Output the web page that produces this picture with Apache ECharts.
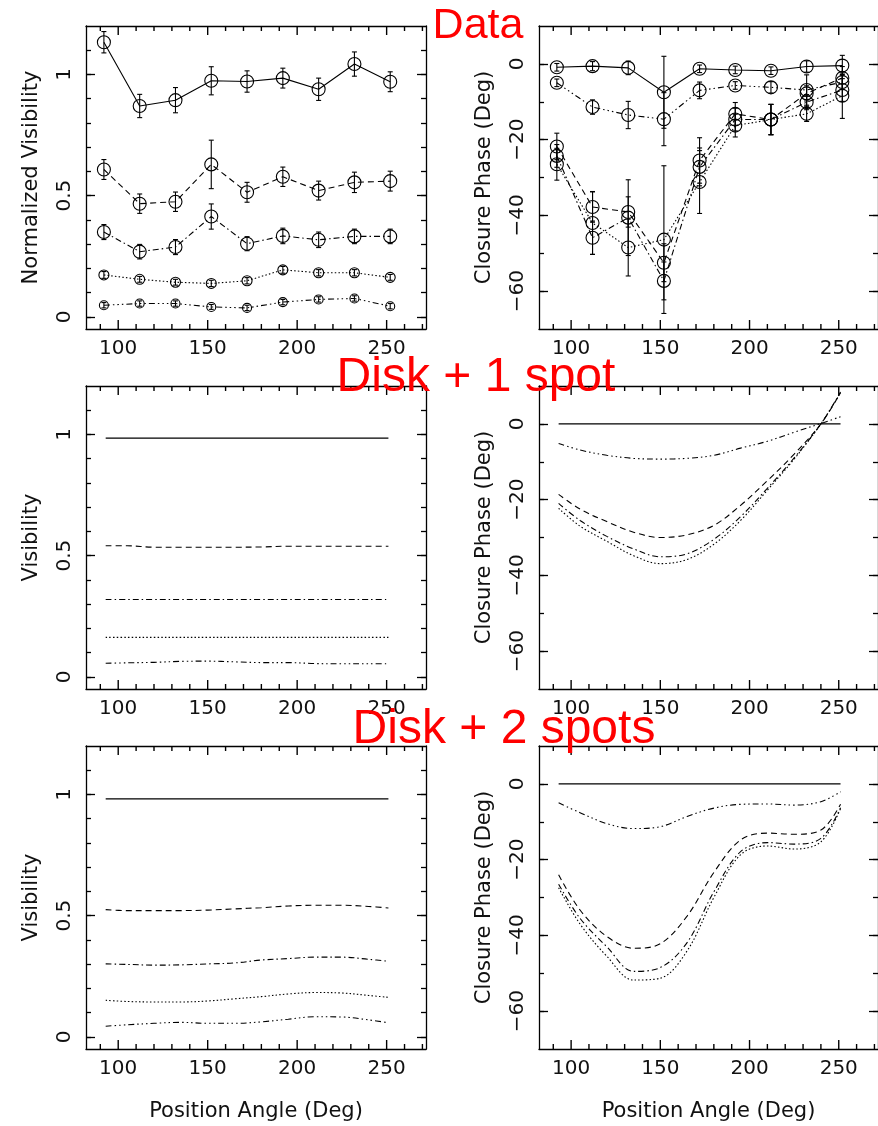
<!DOCTYPE html>
<html><head><meta charset="utf-8">
<script src="https://cdn.jsdelivr.net/npm/echarts@6/dist/echarts.min.js"></script>
<style>html,body{margin:0;padding:0;background:#fff}#c{width:878px;height:1126px}</style>
</head><body><div id="c"></div>
<script>
// ---------- DATA ----------
const posAngle = [92,112,132,152,172,192,212,232,252];
// Observed normalized visibilities (5 baselines) and errors
const visObs1 = [1.133,0.870,0.894,0.974,0.971,0.985,0.939,1.043,0.970];
const visObs1Err = [0.044,0.048,0.052,0.058,0.044,0.041,0.046,0.050,0.041];
const visObs2 = [0.608,0.467,0.475,0.629,0.514,0.578,0.521,0.555,0.560];
const visObs2Err = [0.041,0.040,0.040,0.100,0.041,0.040,0.039,0.042,0.041];
const visObs3 = [0.350,0.269,0.288,0.414,0.302,0.334,0.318,0.332,0.332];
const visObs3Err = [0.031,0.030,0.031,0.052,0.029,0.032,0.032,0.030,0.030];
const visObs4 = [0.173,0.155,0.143,0.138,0.149,0.194,0.182,0.182,0.163];
const visObs4Err = [0.014,0.012,0.012,0.013,0.013,0.014,0.013,0.013,0.012];
const visObs5 = [0.048,0.055,0.055,0.041,0.037,0.061,0.072,0.076,0.044];
const visObs5Err = [0.011,0.011,0.011,0.010,0.011,0.011,0.011,0.011,0.011];
// Observed closure phases (deg) and errors
const cpObsA = [-0.9,-0.6,-1.05,-7.5,-1.3,-1.6,-1.8,-0.7,-0.45];
const cpObsAErr = [1.0,1.2,1.8,9.5,1.0,1.0,1.0,1.5,2.7];
const cpObsB = [-5.0,-11.4,-13.5,-14.6,-7.0,-5.7,-6.2,-6.9,-4.8];
const cpObsBErr = [1.0,1.9,3.6,7.0,2.2,1.0,1.5,4.0,2.0];
const cpObsC = [-21.8,-37.8,-39.1,-52.5,-25.5,-13.2,-14.7,-7.8,-3.7];
const cpObsCErr = [3.5,4.0,4.0,5.0,6.0,3.0,4.0,2.0,3.0];
const cpObsD = [-24.3,-45.9,-40.6,-57.3,-27.2,-14.7,-14.7,-10.1,-6.9];
const cpObsDErr = [3.0,4.4,10.0,5.0,5.0,3.0,4.0,2.0,3.0];
const cpObsE = [-26.5,-42.0,-48.5,-46.4,-31.2,-16.3,-14.7,-13.2,-8.4];
const cpObsEErr = [4.2,8.3,7.5,19.5,8.3,3.0,4.0,2.0,6.0];

// Model position angles
const modelPA = [93,105,120,135,150,165,180,195,210,225,240,251];
// Disk + 1 spot model
const spot1Vis1 = [0.985,0.985,0.985,0.985,0.985,0.985,0.985,0.985,0.985,0.985,0.985,0.985];
const spot1Vis2 = [0.541,0.541,0.535,0.535,0.535,0.535,0.536,0.539,0.539,0.539,0.539,0.539];
const spot1Vis3 = [0.319,0.319,0.319,0.319,0.319,0.319,0.319,0.319,0.319,0.319,0.319,0.319];
const spot1Vis4 = [0.163,0.163,0.163,0.163,0.163,0.163,0.163,0.163,0.163,0.163,0.163,0.163];
const spot1Vis5 = [0.056,0.058,0.060,0.064,0.065,0.062,0.059,0.059,0.055,0.054,0.054,0.054];
const spot1CpA = [0,0,0,0,0,0,0,0,0,0,0,0];
const spot1CpB = [-5.2,-6.9,-8.3,-9.1,-9.3,-9.1,-8.3,-6.4,-4.6,-2.2,0.1,1.9];
const spot1CpC = [-18.6,-22.5,-25.8,-28.6,-30.0,-29.3,-26.8,-21.5,-15.0,-8.0,0.0,8.2];
const spot1CpD = [-21.0,-25.5,-29.7,-33.0,-35.1,-34.3,-30.5,-24.5,-17.0,-9.0,0.0,8.4];
const spot1CpE = [-22.3,-27.0,-31.0,-34.8,-36.9,-35.8,-31.8,-25.5,-17.5,-9.3,0.0,8.2];
// Disk + 2 spots model
const spot2Vis1 = [0.982,0.982,0.982,0.982,0.982,0.982,0.982,0.982,0.982,0.982,0.982,0.982];
const spot2Vis2 = [0.525,0.521,0.521,0.521,0.523,0.528,0.533,0.540,0.543,0.543,0.538,0.532];
const spot2Vis3 = [0.301,0.299,0.296,0.297,0.301,0.305,0.317,0.323,0.329,0.329,0.320,0.312];
const spot2Vis4 = [0.151,0.146,0.144,0.144,0.148,0.157,0.166,0.177,0.183,0.181,0.171,0.163];
const spot2Vis5 = [0.044,0.050,0.056,0.060,0.056,0.056,0.062,0.073,0.083,0.082,0.070,0.058];
const spot2CpA = [0,0,0,0,0,0,0,0,0,0,0,0];
const spot2CpB = [-5.0,-7.6,-10.5,-11.8,-11.3,-8.6,-6.4,-5.4,-5.3,-5.6,-4.7,-2.1];
const spot2CpC = [-24.0,-33.3,-40.3,-43.4,-42.2,-34.9,-23.4,-14.8,-13.0,-13.3,-12.2,-5.4];
const spot2CpD = [-26.5,-35.5,-43.0,-49.5,-48.5,-41.9,-28.5,-17.9,-15.5,-15.9,-14.4,-6.3];
const spot2CpE = [-27.4,-37.0,-45.5,-51.8,-51.3,-44.1,-30.0,-18.7,-16.4,-17.2,-15.3,-6.5];

// Tick values
const xMajorTicks = [100,150,200,250];
const xMinorTicks = [90,110,120,130,140,160,170,180,190,210,220,230,240,260,270];
const visMajorTicks = [0,0.5,1];
const visMinorTicks = [0,0.1,0.2,0.3,0.4,0.5,0.6,0.7,0.8,0.9,1.0,1.1];
const cpMajorTicks = [-60,-40,-20,0];
const cpMinorTicks = [-60,-50,-40,-30,-20,-10,0];
const panelTitles = ['Data','Disk + 1 spot','Disk + 2 spots'];

// ---------- STYLE / LAYOUT ----------
const FONT = 'DejaVu Sans';
const TXT = '#111';
const AXL = {color:'#000', width:1.3};
const X_RANGE = [82,272];
const VIS_RANGE = [-0.05,1.2];
const CP_RANGE = [-70,10];
const colLeft = [86,539];
const rowTop = [26,386,746];
const PW = 340, PH = 303;
const DASH = {solid:'solid', dashed:[6,4], dashdot:[6,3,1.5,3], dotted:[1.5,2.2], dash3dot:[6,3,1.5,3,1.5,3,1.5,3]};

const grids=[], xAxes=[], yAxes=[], series=[], panelRanges=[];

function addPanel(row, col){
  const gi = grids.length;
  grids.push({left:colLeft[col], top:rowTop[row], width:PW, height:PH});
  const isVis = col===0;
  const yr = isVis ? VIS_RANGE : CP_RANGE;
  panelRanges.push(yr);
  const yMaj = isVis ? visMajorTicks : cpMajorTicks;
  const yMin = isVis ? visMinorTicks : cpMinorTicks;
  const yName = isVis ? (row===0 ? 'Normalized Visibility' : 'Visibility') : 'Closure Phase (Deg)';
  const xc = {gridIndex:gi, type:'value', min:X_RANGE[0], max:X_RANGE[1], splitLine:{show:false}};
  const nameStyle = {fontFamily:FONT, fontSize:21, color:TXT};
  const lineOn = {show:true, onZero:false, lineStyle:AXL};
  const lineOff = {show:false, onZero:false};
  xAxes.push(Object.assign({}, xc, {position:'bottom', axisLine:lineOn, axisTick:{show:false},
    axisLabel:{show:true,customValues:xMajorTicks,margin:10,fontFamily:FONT,fontSize:20,color:TXT},
    name: row===2 ? 'Position Angle (Deg)' : '', nameLocation:'middle', nameGap:52, nameTextStyle:nameStyle}));
  xAxes.push(Object.assign({}, xc, {position:'top', axisLine:lineOn, axisTick:{show:false}, axisLabel:{show:false}}));
  const yc = {gridIndex:gi, type:'value', min:yr[0], max:yr[1], splitLine:{show:false}};
  yAxes.push(Object.assign({}, yc, {position:'left', axisLine:lineOn,
    axisTick:{show:true,inside:true,length:9,customValues:yMaj,lineStyle:AXL},
    axisLabel:{show:true,customValues:yMaj,rotate:90,margin:11,fontFamily:FONT,fontSize:20,color:TXT,
      formatter:v=>String(v).replace('-','\u2212')},
    name:yName, nameLocation:'middle', nameGap:44, nameRotate:90, nameTextStyle:nameStyle}));
  yAxes.push(Object.assign({}, yc, {position:'left', axisLine:lineOff,
    axisTick:{show:true,inside:true,length:5,customValues:yMin,lineStyle:AXL}, axisLabel:{show:false}}));
  yAxes.push(Object.assign({}, yc, {position:'right', axisLine:lineOn,
    axisTick:{show:true,inside:true,length:9,customValues:yMaj,lineStyle:AXL}, axisLabel:{show:false}}));
  yAxes.push(Object.assign({}, yc, {position:'right', axisLine:lineOff,
    axisTick:{show:true,inside:true,length:5,customValues:yMin,lineStyle:AXL}, axisLabel:{show:false}}));
  return gi;
}

function pairs(xs, ys){ return xs.map((x,i)=>[x, ys[i]]); }

function addLine(gi, xs, ys, dash, sym, symSize, smooth){
  series.push({type:'line', xAxisIndex:gi*2, yAxisIndex:gi*4, data:pairs(xs,ys),
    silent:true, smooth: smooth ? 0.35 : false,
    showSymbol: !!sym, symbol: sym || 'none', symbolSize: symSize || 0,
    itemStyle:{color:'rgba(255,255,255,0)', borderColor:'#000', borderWidth:1.1},
    lineStyle:{color:'#000', width:1.1, type:DASH[dash]}, z:3});
}

function errItem(params, api){
  const x = api.value(0), lo = api.value(1), hi = api.value(2);
  const p1 = api.coord([x, lo]), p2 = api.coord([x, hi]);
  const w = 2.5, st = {stroke:'#000', lineWidth:1.1};
  return {type:'group', children:[
    {type:'line', shape:{x1:p1[0],y1:p1[1],x2:p2[0],y2:p2[1]}, style:st},
    {type:'line', shape:{x1:p1[0]-w,y1:p1[1],x2:p1[0]+w,y2:p1[1]}, style:st},
    {type:'line', shape:{x1:p2[0]-w,y1:p2[1],x2:p2[0]+w,y2:p2[1]}, style:st}
  ]};
}
function addErr(gi, xs, ys, es){
  series.push({type:'custom', xAxisIndex:gi*2, yAxisIndex:gi*4, silent:true,
    renderItem:errItem, encode:{x:0, y:[1,2]},
    data: xs.map((x,i)=>[x, ys[i]-es[i], ys[i]+es[i]]), z:4});
}

// Row 0: Data
let g = addPanel(0,0);
addLine(g, posAngle, visObs1, 'solid', 'circle', 13); addErr(g, posAngle, visObs1, visObs1Err);
addLine(g, posAngle, visObs2, 'dashed', 'circle', 13); addErr(g, posAngle, visObs2, visObs2Err);
addLine(g, posAngle, visObs3, 'dashdot', 'circle', 13); addErr(g, posAngle, visObs3, visObs3Err);
addLine(g, posAngle, visObs4, 'dotted', 'circle', 10); addErr(g, posAngle, visObs4, visObs4Err);
addLine(g, posAngle, visObs5, 'dash3dot', 'circle', 9); addErr(g, posAngle, visObs5, visObs5Err);
g = addPanel(0,1);
addLine(g, posAngle, cpObsA, 'solid', 'circle', 13); addErr(g, posAngle, cpObsA, cpObsAErr);
addLine(g, posAngle, cpObsB, 'dash3dot', 'circle', 13); addErr(g, posAngle, cpObsB, cpObsBErr);
addLine(g, posAngle, cpObsC, 'dashed', 'circle', 13); addErr(g, posAngle, cpObsC, cpObsCErr);
addLine(g, posAngle, cpObsD, 'dashdot', 'circle', 13); addErr(g, posAngle, cpObsD, cpObsDErr);
addLine(g, posAngle, cpObsE, 'dotted', 'circle', 13); addErr(g, posAngle, cpObsE, cpObsEErr);
// Row 1: Disk + 1 spot
g = addPanel(1,0);
addLine(g, modelPA, spot1Vis1, 'solid', null, 0, true);
addLine(g, modelPA, spot1Vis2, 'dashed', null, 0, true);
addLine(g, modelPA, spot1Vis3, 'dashdot', null, 0, true);
addLine(g, modelPA, spot1Vis4, 'dotted', null, 0, true);
addLine(g, modelPA, spot1Vis5, 'dash3dot', null, 0, true);
g = addPanel(1,1);
addLine(g, modelPA, spot1CpA, 'solid', null, 0, true);
addLine(g, modelPA, spot1CpB, 'dash3dot', null, 0, true);
addLine(g, modelPA, spot1CpC, 'dashed', null, 0, true);
addLine(g, modelPA, spot1CpD, 'dashdot', null, 0, true);
addLine(g, modelPA, spot1CpE, 'dotted', null, 0, true);
// Row 2: Disk + 2 spots
g = addPanel(2,0);
addLine(g, modelPA, spot2Vis1, 'solid', null, 0, true);
addLine(g, modelPA, spot2Vis2, 'dashed', null, 0, true);
addLine(g, modelPA, spot2Vis3, 'dashdot', null, 0, true);
addLine(g, modelPA, spot2Vis4, 'dotted', null, 0, true);
addLine(g, modelPA, spot2Vis5, 'dash3dot', null, 0, true);
g = addPanel(2,1);
addLine(g, modelPA, spot2CpA, 'solid', null, 0, true);
addLine(g, modelPA, spot2CpB, 'dash3dot', null, 0, true);
addLine(g, modelPA, spot2CpC, 'dashed', null, 0, true);
addLine(g, modelPA, spot2CpD, 'dashdot', null, 0, true);
addLine(g, modelPA, spot2CpE, 'dotted', null, 0, true);

const titlePos = [[478,26,43],[476,378,48],[504,730,48]];
const titleGraphics = panelTitles.map((t,i)=>({type:'text', z:100, zlevel:2, silent:true,
  style:{x:titlePos[i][0], y:titlePos[i][1], text:t, fill:'#ff0000',
    font: titlePos[i][2]+'px "Liberation Sans", Arial, sans-serif', align:'center', verticalAlign:'middle'}}));

const chart = echarts.init(document.getElementById('c'), null, {renderer:'canvas'});
chart.setOption({animation:false, backgroundColor:'#fff', grid:grids, xAxis:xAxes, yAxis:yAxes, series:series});

// x frame ticks (top & bottom edges, pointing inward), positioned through each panel's axis scales
const tickGraphics = [];
panelRanges.forEach((yr, gi)=>{
  const finder = {xAxisIndex:gi*2, yAxisIndex:gi*4};
  const tv = xMajorTicks.map(v=>[v,9]).concat(xMinorTicks.map(v=>[v,5]));
  tv.forEach(([v,len])=>{
    const pb = chart.convertToPixel(finder, [v, yr[0]]);
    const pt = chart.convertToPixel(finder, [v, yr[1]]);
    tickGraphics.push({type:'rect', z:90, zlevel:1, silent:true, shape:{x:pb[0]-0.7, y:pb[1]-len, width:1.4, height:len}, style:{fill:'#000'}});
    tickGraphics.push({type:'rect', z:90, zlevel:1, silent:true, shape:{x:pt[0]-0.7, y:pt[1], width:1.4, height:len}, style:{fill:'#000'}});
  });
});
chart.setOption({graphic:{elements: tickGraphics.concat(titleGraphics)}});
</script>
</body></html>
